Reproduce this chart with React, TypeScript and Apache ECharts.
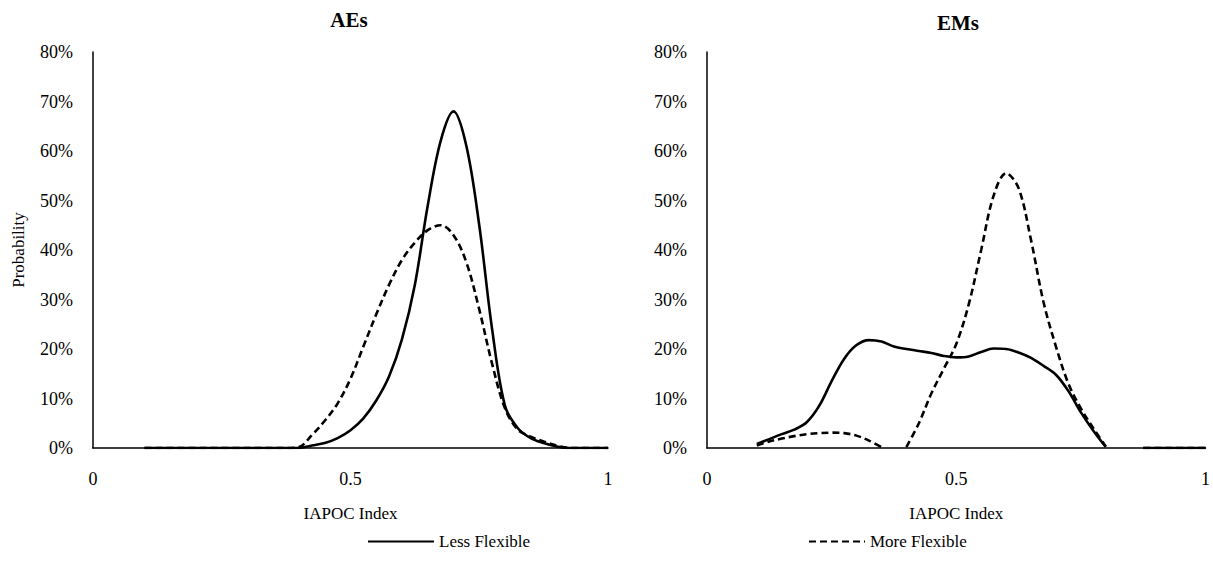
import React, { useEffect, useRef } from "react";
import * as echarts from "echarts";

const xs = [
  0.1, 0.125, 0.15, 0.175, 0.2, 0.225, 0.25, 0.275, 0.3, 0.325, 0.35, 0.375, 0.4,
  0.425, 0.45, 0.475, 0.5, 0.525, 0.55, 0.575, 0.6, 0.625, 0.65, 0.675, 0.7,
  0.725, 0.75, 0.775, 0.8, 0.825, 0.85, 0.875, 0.9, 0.925, 0.95, 0.975, 1.0,
];

// AEs (percent)
const aesLess = [
  0, 0, 0, 0, 0, 0, 0, 0, 0, 0, 0, 0, 0,
  0.5, 1.0, 2.0, 3.6, 6, 9.6, 14.5, 22, 33, 49, 62, 68,
  61, 45, 24, 8.5, 4, 2, 1, 0.3, 0, 0, 0, 0,
];
const aesMore = [
  0, 0, 0, 0, 0, 0, 0, 0, 0, 0, 0, 0, 0.2,
  2.6, 5.5, 9, 14, 20.5, 27, 33, 38, 41.5, 44, 45, 43,
  37.5, 28, 17, 8, 3.7, 2.3, 1.3, 0.5, 0, 0, 0, 0,
];

// EMs (percent)
const emsLess = [
  0.8, 1.8, 2.8, 3.7, 5.2, 8.5, 13.5, 18, 20.8, 21.8, 21.5, 20.5, 20,
  19.6, 19.2, 18.6, 18.3, 18.5, 19.4, 20.1, 20, 19.3, 18.2, 16.6, 14.8,
  11.5, 7.2, 3.5, 0.2, null, null, 0, 0, 0, 0, 0, 0,
];
const emsMore = [
  0.5, 1.3, 1.9, 2.4, 2.8, 3.0, 3.1, 3.0, 2.5, 1.5, 0.2, null, 0.2,
  5, 11, 16, 21, 29, 40, 51, 55.5, 52.5, 42, 29.5, 20.5,
  13, 8, 4, 0.3, null, null, 0, 0, 0, 0, 0, 0,
];

const yTicks = [0, 10, 20, 30, 40, 50, 60, 70, 80];
const xTicks = [0, 0.5, 1];
const titles = ["AEs", "EMs"];
const seriesNames = ["Less Flexible", "More Flexible"];

const FONT = "'Liberation Serif', 'Times New Roman', serif";

const pairs = (arr: (number | null)[]) => xs.map((x, i) => [x, arr[i] === null ? "-" : arr[i]]);

export default function App() {
  const ref = useRef<HTMLDivElement>(null);
  useEffect(() => {
    if (!ref.current) return;
    const chart = echarts.init(ref.current, null, { renderer: "svg" });
    const axisLine = { show: true, lineStyle: { color: "#000", width: 1.5 } };
    const xAxisBase = (gridIndex: number) => ({
      type: "value",
      gridIndex,
      min: xTicks[0],
      max: xTicks[xTicks.length - 1],
      interval: 0.5,
      axisLine,
      axisTick: { show: false },
      splitLine: { show: false },
      axisLabel: { color: "#000", fontFamily: FONT, fontSize: 18, margin: 22 },
      name: "IAPOC Index",
      nameLocation: "middle",
      nameGap: 57,
      nameTextStyle: { color: "#000", fontFamily: FONT, fontSize: 17 },
    });
    const yAxisBase = (gridIndex: number) => ({
      type: "value",
      gridIndex,
      min: yTicks[0],
      max: yTicks[yTicks.length - 1],
      interval: 10,
      axisLine,
      axisTick: { show: false },
      splitLine: { show: false },
      axisLabel: { color: "#000", fontFamily: FONT, fontSize: 18, margin: 20, formatter: "{value}%" },
    });
    const lineSeries = (name: string, data: (number | null)[], idx: number, dashed: boolean) => ({
      name,
      type: "line",
      xAxisIndex: idx,
      yAxisIndex: idx,
      data: pairs(data),
      smooth: 0.35,
      symbol: "none",
      showSymbol: false,
      connectNulls: false,
      lineStyle: { color: "#000", width: 2.6, type: dashed ? [7, 4] : "solid" },
      itemStyle: { color: "#000" },
    });
    const legendBase = {
      top: 528,
      itemHeight: 14,
      itemGap: 5,
      itemStyle: { opacity: 0 },
      textStyle: { fontFamily: FONT, fontSize: 17, color: "#000" },
    };
    chart.setOption({
      animation: false,
      backgroundColor: "#fff",
      title: [
        {
          text: titles[0],
          left: 349,
          top: 9,
          textAlign: "center",
          padding: 0,
          textStyle: { fontFamily: FONT, fontWeight: "bold", fontSize: 21, color: "#000" },
        },
        {
          text: titles[1],
          left: 958,
          top: 12,
          textAlign: "center",
          padding: 0,
          textStyle: { fontFamily: FONT, fontWeight: "bold", fontSize: 21, color: "#000" },
        },
      ],
      legend: [
        { ...legendBase, data: [seriesNames[0]], left: 362, itemWidth: 66 },
        { ...legendBase, data: [seriesNames[1]], left: 803, itemWidth: 56 },
      ],
      grid: [
        { left: 93, right: 1213 - 608, top: 52, bottom: 577 - 448 },
        { left: 707, right: 1213 - 1207, top: 52, bottom: 577 - 448 },
      ],
      xAxis: [xAxisBase(0), xAxisBase(1)],
      yAxis: [
        {
          ...yAxisBase(0),
          name: "Probability",
          nameLocation: "middle",
          nameGap: 66,
          nameRotate: 90,
          nameTextStyle: { color: "#000", fontFamily: FONT, fontSize: 17 },
        },
        yAxisBase(1),
      ],
      series: [
        lineSeries(seriesNames[0], aesLess, 0, false),
        lineSeries(seriesNames[1], aesMore, 0, true),
        lineSeries(seriesNames[0], emsLess, 1, false),
        lineSeries(seriesNames[1], emsMore, 1, true),
      ],
    });
    return () => chart.dispose();
  }, []);
  return <div ref={ref} style={{ width: 1213, height: 577, position: "absolute", left: 0, top: 0 }} />;
}
